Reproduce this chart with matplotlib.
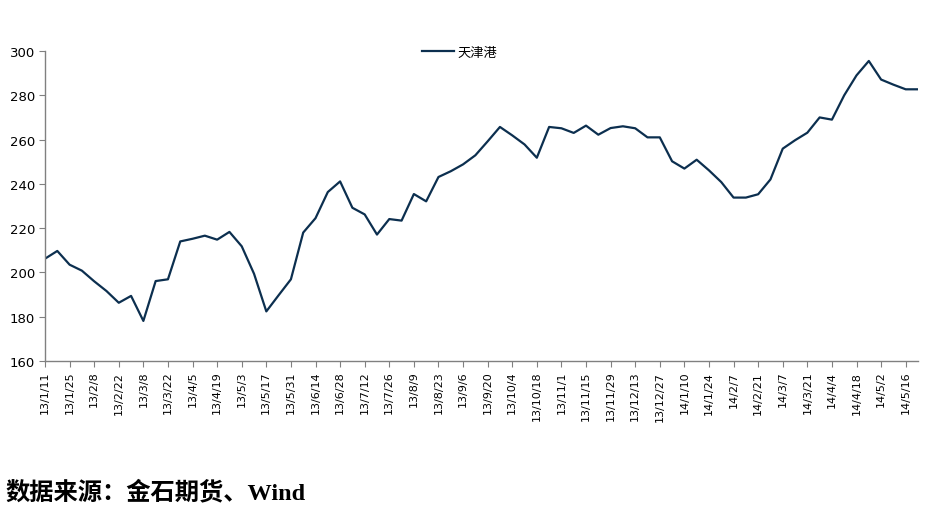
import matplotlib.pyplot as plt
import numpy as np

plt.rcParams['font.family'] = ['DejaVu Sans', 'Noto Sans CJK SC']

# weekly price, 天津港, 13/1/11 .. 14/5/23
weeks = ["13/1/11", "13/1/18", "13/1/25", "13/2/1", "13/2/8", "13/2/15", "13/2/22", "13/3/1",
         "13/3/8", "13/3/15", "13/3/22", "13/3/29", "13/4/5", "13/4/12", "13/4/19", "13/4/26",
         "13/5/3", "13/5/10", "13/5/17", "13/5/24", "13/5/31", "13/6/7", "13/6/14", "13/6/21",
         "13/6/28", "13/7/5", "13/7/12", "13/7/19", "13/7/26", "13/8/2", "13/8/9", "13/8/16",
         "13/8/23", "13/8/30", "13/9/6", "13/9/13", "13/9/20", "13/9/27", "13/10/4", "13/10/11",
         "13/10/18", "13/10/25", "13/11/1", "13/11/8", "13/11/15", "13/11/22", "13/11/29", "13/12/6",
         "13/12/13", "13/12/20", "13/12/27", "14/1/3", "14/1/10", "14/1/17", "14/1/24", "14/1/31",
         "14/2/7", "14/2/14", "14/2/21", "14/2/28", "14/3/7", "14/3/14", "14/3/21", "14/3/28",
         "14/4/4", "14/4/11", "14/4/18", "14/4/25", "14/5/2", "14/5/9", "14/5/16", "14/5/23"]

tianjin = [206.2, 209.7, 203.5, 200.8, 196.0, 191.6, 186.3, 189.4,
           178.1, 196.1, 196.9, 214.0, 215.2, 216.6, 214.8, 218.3,
           211.8, 199.4, 182.4, 189.7, 196.9, 218.0, 224.5, 236.3,
           241.1, 229.2, 226.2, 217.1, 224.1, 223.4, 235.4, 232.1,
           243.1, 245.7, 248.8, 252.9, 259.2, 265.7, 261.9, 257.8,
           251.8, 265.7, 265.1, 263.0, 266.3, 262.2, 265.2, 266.0,
           265.1, 261.0, 261.0, 250.2, 246.9, 250.9, 246.1, 240.8,
           233.8, 233.8, 235.3, 242.0, 255.9, 259.7, 263.1, 270.0,
           269.0, 280.0, 289.0, 295.5, 287.1, 284.8, 282.7, 282.7]

fig = plt.figure(figsize=(9.3, 5.1), dpi=100)
ax = fig.add_axes([45 / 930, 1 - 362 / 510, (918 - 45) / 930, (362 - 52) / 510])

x = np.arange(len(weeks))
ax.plot(x, tianjin, color="#0c2f4f", linewidth=1.6, label="天津港")

ax.set_xlim(0, len(weeks) - 1)
ax.set_ylim(160, 300)
ax.set_yticks(np.arange(160, 301, 20))
ax.set_xticks(x[::2])
ax.set_xticklabels(weeks[::2], rotation=90, fontsize=8)
ax.tick_params(axis="y", labelsize=9.5, length=4, color="#808080", pad=3)
ax.tick_params(axis="x", length=4, color="#808080", pad=3)

for side in ["top", "right"]:
    ax.spines[side].set_visible(False)
for side in ["left", "bottom"]:
    ax.spines[side].set_color("#808080")
    ax.spines[side].set_linewidth(1)

fig.legend(loc="center left", bbox_to_anchor=(410 / 930, 1 - 53 / 510), frameon=False,
           fontsize=9.5, handlelength=2.4, handletextpad=0.3)

fig.text(5 / 930, 1 - 493 / 510, "数据来源：金石期货、Wind", fontsize=17.5, fontweight="bold",
         family=["Liberation Serif", "Noto Sans CJK SC"], va="center", ha="left")

plt.savefig("out.png", dpi=100)
plt.close()
